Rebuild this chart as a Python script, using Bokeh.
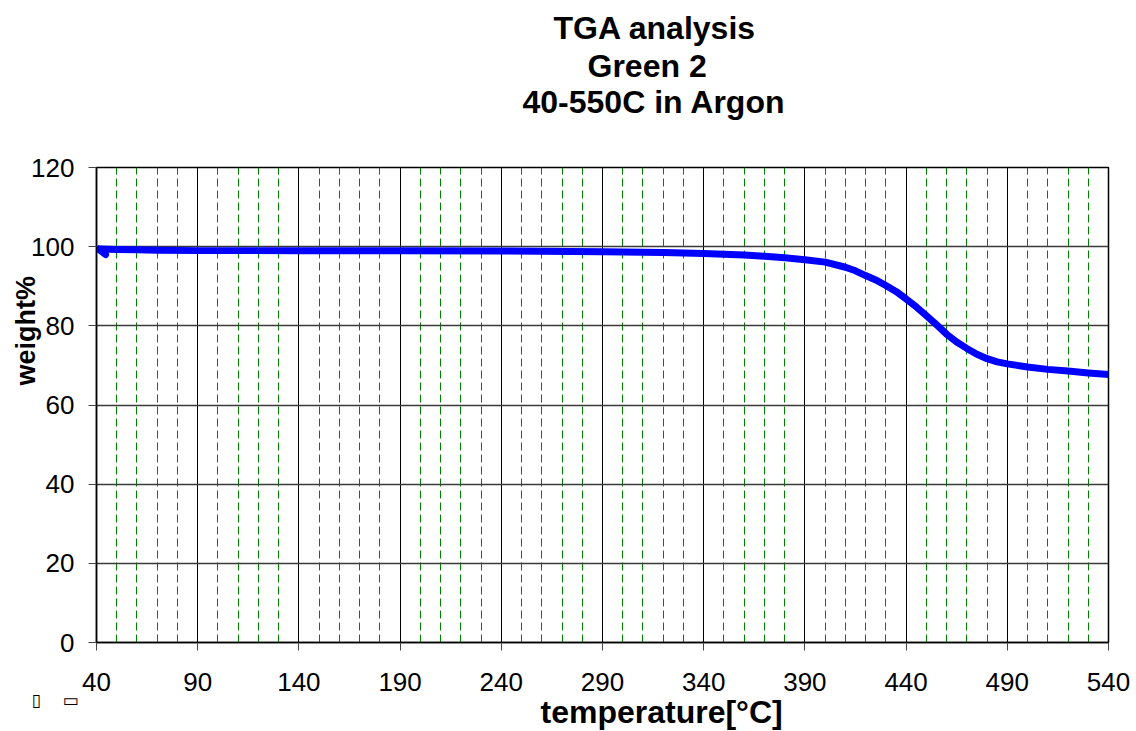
from bokeh.plotting import figure
from bokeh.models import Range1d, FixedTicker, Title
from bokeh.embed import file_html
from bokeh.resources import INLINE

# ---- data ----
temperature = [40, 44.5, 42, 50, 60, 70, 90, 140, 190, 240, 290, 320, 340, 360, 370, 380, 390,
               400, 410, 415, 420, 425, 430, 435, 440, 445, 450, 455, 460, 465, 470, 475, 480,
               485, 490, 500, 510, 520, 530, 540]
weight = [99.8, 98.0, 99.4, 99.3, 99.2, 99.1, 99.0, 99.0, 99.0, 98.9, 98.7, 98.5, 98.3, 97.9,
          97.6, 97.2, 96.7, 96.1, 94.8, 93.9, 92.7, 91.6, 90.2, 88.7, 86.8, 84.8, 82.6, 80.3,
          77.9, 75.9, 74.3, 72.8, 71.7, 70.9, 70.4, 69.6, 69.0, 68.6, 68.1, 67.7]

x_major_ticks = [40, 90, 140, 190, 240, 290, 340, 390, 440, 490, 540]
x_minor_ticks = [v for v in range(50, 540, 10) if v not in x_major_ticks]
y_ticks = [0, 20, 40, 60, 80, 100, 120]

title_lines = ["TGA analysis", "Green 2", "40-550C in Argon"]
x_label = "temperature[°C]"
y_label = "weight%"
legend_marks = "\u25AF" + "\u00A0" * 4 + "\u25AD"

FONT = "Liberation Sans"

p = figure(width=1136, height=731, output_backend="svg", toolbar_location=None,
           title=None,
           x_range=Range1d(40, 540), y_range=Range1d(0, 120),
           min_border_left=96, min_border_right=28, min_border_top=167, min_border_bottom=89)
p.background_fill_color = "white"
p.border_fill_color = "white"
p.outline_line_color = "black"
p.outline_line_width = 1.5

# axes
xt = FixedTicker(ticks=x_major_ticks, minor_ticks=x_minor_ticks)
p.xaxis.ticker = xt
p.yaxis.ticker = FixedTicker(ticks=y_ticks)
for ax in (p.xaxis[0], p.yaxis[0]):
    ax.major_label_text_font = FONT
    ax.major_label_text_font_size = "26px"
    ax.major_label_text_color = "black"
    ax.axis_line_color = "black"
    ax.axis_line_width = 1.5
    ax.major_tick_line_color = "#444444"
    ax.major_tick_out = 8
    ax.major_tick_in = 0
    ax.minor_tick_out = 0
    ax.minor_tick_in = 0
p.yaxis.major_label_standoff = 14
p.xaxis.major_label_standoff = 22

# grids
p.xgrid.ticker = xt
p.xgrid.grid_line_color = "black"
p.xgrid.grid_line_width = 1
p.xgrid.minor_grid_line_color = "#008000"
p.xgrid.minor_grid_line_dash = "8 4"
p.xgrid.minor_grid_line_width = 1
p.ygrid.grid_line_color = "#3a3a3a"
p.ygrid.grid_line_width = 1.3

# curve
p.line(temperature, weight, line_color="#0000ff", line_width=7, line_join="round")

# ---- title (above): spacer first (closest to frame), then lines bottom-up ----
p.add_layout(Title(text="\u00A0", text_font_size="1px", standoff=45), "above")
title_offsets = [457, 491, 426]
title_standoffs = [3, -4, 0]
for txt, off, so in reversed(list(zip(title_lines, title_offsets, title_standoffs))):
    p.add_layout(Title(text=txt, align="left", offset=off, standoff=so,
                       text_font=FONT, text_font_style="bold", text_font_size="32px",
                       text_color="black"), "above")

# ---- below: tofu legend squares, then x label ----
p.add_layout(Title(text=legend_marks, align="left", offset=-65, standoff=-8,
                   vertical_align="top",
                   text_font="DejaVu Sans", text_font_style="normal", text_font_size="17px",
                   text_color="black"), "below")
p.add_layout(Title(text=x_label, align="left", offset=444, standoff=-27,
                   vertical_align="top",
                   text_font=FONT, text_font_style="bold", text_font_size="32px",
                   text_color="black"), "below")

# ---- y label (left) ----
p.add_layout(Title(text=y_label, align="left", offset=257, standoff=-24,
                   text_font=FONT, text_font_style="bold", text_font_size="27px",
                   text_color="black"), "left")

open("out.html", "w").write(file_html(p, INLINE))
